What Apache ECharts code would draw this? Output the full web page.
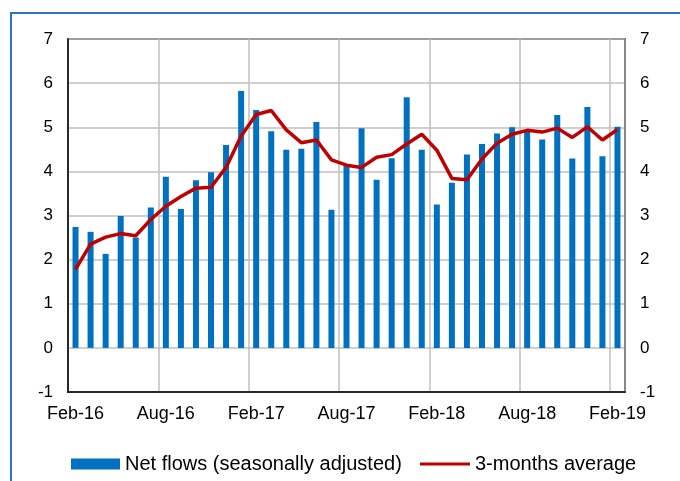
<!DOCTYPE html>
<html>
<head>
<meta charset="utf-8">
<script src="https://cdn.jsdelivr.net/npm/echarts@6/dist/echarts.min.js"></script>
<style>
  html, body { margin: 0; padding: 0; background: #fff; }
  #main { width: 680px; height: 481px; }
</style>
</head>
<body>
<div id="main"></div>
<script>
  let months = [
    'Feb-16', 'Mar-16', 'Apr-16', 'May-16', 'Jun-16', 'Jul-16',
    'Aug-16', 'Sep-16', 'Oct-16', 'Nov-16', 'Dec-16', 'Jan-17',
    'Feb-17', 'Mar-17', 'Apr-17', 'May-17', 'Jun-17', 'Jul-17',
    'Aug-17', 'Sep-17', 'Oct-17', 'Nov-17', 'Dec-17', 'Jan-18',
    'Feb-18', 'Mar-18', 'Apr-18', 'May-18', 'Jun-18', 'Jul-18',
    'Aug-18', 'Sep-18', 'Oct-18', 'Nov-18', 'Dec-18', 'Jan-19',
    'Feb-19'
  ]
  let netFlows = [
    2.74, 2.63, 2.13, 2.99, 2.50, 3.18, 3.88, 3.15, 3.80, 3.98, 4.60, 5.82,
    5.39, 4.91, 4.49, 4.51, 5.12, 3.13, 4.13, 4.98, 3.81, 4.30, 5.68, 4.49,
    3.25, 3.74, 4.38, 4.62, 4.86, 5.00, 4.93, 4.72, 5.28, 4.29, 5.46, 4.34,
    5.01
  ]
  let avg3m = [
    1.78, 2.35, 2.51, 2.59, 2.54, 2.91, 3.21, 3.43, 3.62, 3.64, 4.09, 4.80,
    5.29, 5.38, 4.94, 4.65, 4.71, 4.26, 4.14, 4.09, 4.32, 4.38, 4.62, 4.84,
    4.48, 3.84, 3.81, 4.28, 4.64, 4.84, 4.93, 4.89, 4.98, 4.77, 5.01, 4.71,
    4.95
  ]

  let font = 'Liberation Sans, Arial, sans-serif'
  let gridGray = '#bfbfbf'
  let legendText = { color: '#000', fontFamily: font, fontSize: 20 }

  let yAxisBase = function (pos) {
    return {
      type: 'value',
      position: pos,
      min: -1,
      max: 7,
      interval: 1,
      axisLine: { show: true, lineStyle: { color: pos === 'left' ? '#000' : '#7f7f7f', width: 1.5 } },
      axisTick: { show: false },
      axisLabel: {
        color: '#000',
        fontFamily: font,
        fontSize: 17,
        margin: 15
      },
      splitLine: { show: pos === 'left', lineStyle: { color: gridGray, width: 1.5 } }
    }
  }

  let myChart = echarts.init(document.getElementById('main'), null, { renderer: 'canvas' })
  let option = {
    animation: false,
    backgroundColor: '#fff',
    graphic: [
      {
        type: 'rect',
        shape: { x: 11, y: 13, width: 720, height: 520 },
        style: { fill: 'none', stroke: '#2e75c0', lineWidth: 2 },
        z: 0
      }
    ],
    grid: {
      left: 68,
      right: 55,
      top: 39,
      bottom: 89,
      show: true,
      borderColor: '#000',
      borderWidth: 1.5,
      backgroundColor: 'transparent'
    },
    // two legends so the line key can be a thin bar
    legend: [
      {
        left: 66,
        top: 449,
        itemWidth: 49,
        itemHeight: 11,
        icon: 'rect',
        textStyle: legendText,
        data: ['Net flows (seasonally adjusted)']
      },
      {
        left: 415,
        top: 449,
        itemWidth: 50,
        itemHeight: 3,
        icon: 'rect',
        textStyle: legendText,
        data: ['3-months average']
      }
    ],
    xAxis: {
      type: 'category',
      data: months,
      boundaryGap: true,
      axisLine: { onZero: false, lineStyle: { color: '#000', width: 1.5 } },
      axisTick: { show: false },
      axisLabel: {
        interval: 5,
        color: '#000',
        fontFamily: font,
        fontSize: 18,
        margin: 13
      },
      splitLine: {
        show: true,
        interval: 5,
        lineStyle: { color: gridGray, width: 1.5 }
      }
    },
    yAxis: [yAxisBase('left'), yAxisBase('right')],
    series: [
      {
        name: 'Net flows (seasonally adjusted)',
        type: 'bar',
        data: netFlows,
        barWidth: 6,
        itemStyle: { color: '#0070c0' }
      },
      {
        name: '3-months average',
        type: 'line',
        data: avg3m,
        symbol: 'none',
        lineStyle: { color: '#c00000', width: 3.5 },
        itemStyle: { color: '#c00000' }
      }
    ]
  }
  myChart.setOption(option)
</script>
</body>
</html>
